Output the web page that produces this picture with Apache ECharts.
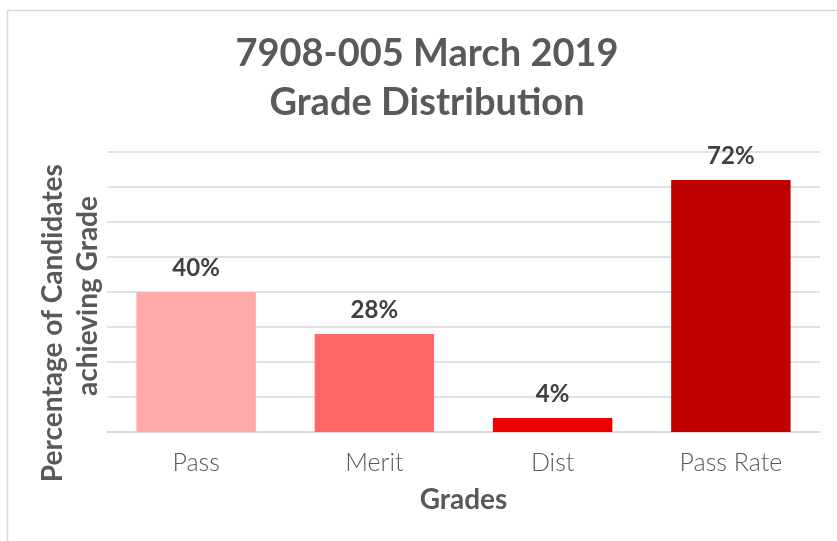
<!DOCTYPE html>
<html>
<head>
<meta charset="utf-8">
<script src="https://cdn.jsdelivr.net/npm/echarts@6/dist/echarts.min.js"></script>
<style>html,body{margin:0;padding:0;background:#fff;}#c{width:837px;height:541px;}</style>
</head>
<body>
<div id="c"></div>
<script>
const categories = ['Pass', 'Merit', 'Dist', 'Pass Rate'];
const values = [40, 28, 4, 72];
const barColors = ['#FFA9A9', '#FF6666', '#EE0000', '#C00000'];
const titleText = '7908-005 March 2019\nGrade Distribution';
const yName = 'Percentage of Candidates        \nachieving Grade';
const xName = 'Grades';

const chart = echarts.init(document.getElementById('c'));
chart.setOption({
  animation: false,
  backgroundColor: '#fff',
  title: {
    text: titleText,
    left: 422,
    textAlign: 'center',
    top: 24,
    textStyle: { fontFamily: 'Lato', fontWeight: 'bold', fontSize: 38, color: '#595959', lineHeight: 49 }
  },
  graphic: [{
    type: 'rect',
    shape: { x: 7.5, y: 10.5, width: 900, height: 600 },
    style: { fill: 'none', stroke: '#d9d9d9', lineWidth: 1.5 },
    silent: true
  }],
  grid: { left: 107, right: 17, top: 152, bottom: 109 },
  xAxis: {
    type: 'category',
    data: categories,
    name: xName,
    nameLocation: 'middle',
    nameGap: 54,
    nameTextStyle: { fontFamily: 'Lato', fontWeight: 'bold', fontSize: 28, color: '#595959' },
    axisLine: { show: true, lineStyle: { color: '#d9d9d9', width: 1.5 } },
    axisTick: { show: false },
    axisLabel: { fontFamily: 'Lato', fontWeight: 300, fontSize: 25, color: '#595959', margin: 18 }
  },
  yAxis: {
    type: 'value',
    min: 0,
    max: 80,
    interval: 10,
    name: yName,
    nameLocation: 'middle',
    nameRotate: 90,
    nameGap: 2,
    nameTextStyle: { fontFamily: 'Lato', fontWeight: 'bold', fontSize: 28, color: '#595959', lineHeight: 35, align: 'center', padding: [0, 8, 0, 0] },
    axisLine: { show: false },
    axisTick: { show: false },
    axisLabel: { show: false },
    splitLine: { show: true, lineStyle: { color: '#d9d9d9', width: 1.5 } }
  },
  series: [{
    type: 'bar',
    data: values.map((v, i) => ({ value: v, itemStyle: { color: barColors[i] } })),
    barCategoryGap: '33%',
    label: {
      show: true,
      position: 'top',
      distance: 12,
      formatter: '{c}%',
      fontFamily: 'Lato',
      fontWeight: 'bold',
      fontSize: 24,
      color: '#404040'
    }
  }]
});
</script>
</body>
</html>
